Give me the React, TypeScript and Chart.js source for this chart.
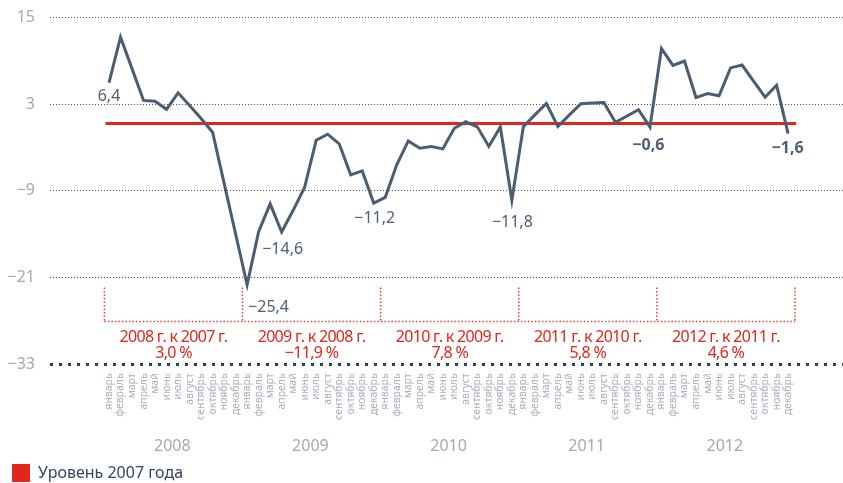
import React, { useEffect, useRef } from 'react';
import { Chart, registerables } from 'chart.js';

Chart.register(...registerables);

// ---- data ----
const monthLabels = ['январь', 'февраль', 'март', 'апрель', 'май', 'июнь', 'июль', 'август', 'сентябрь', 'октябрь', 'ноябрь', 'декабрь'];
const years = ['2008', '2009', '2010', '2011', '2012'];
const values2008 = [5.95, 12.25, 7.9, 3.5, 3.4, 2.27, 4.55, 2.8, 1.0, -0.9, -7.93, -14.97];
const values2009 = [-22.0, -14.66, -10.8, -14.7, -11.7, -8.5, -2.0, -1.17, -2.5, -6.8, -6.25, -10.7];
const values2010 = [-9.9, -5.4, -2.1, -3.1, -2.87, -3.2, -0.35, 0.55, -0.15, -2.86, -0.17, -10.3];
const values2011 = [-0.12, 1.5, 3.08, -0.1, 1.5, 3.05, 3.15, 3.2, 0.46, 1.35, 2.23, -0.2];
const values2012 = [10.67, 8.35, 8.95, 3.9, 4.45, 4.15, 8.0, 8.4, 6.17, 3.95, 5.6, -1.1];
const level2007 = 0.3;
const levelLabel = 'Уровень 2007 года';
const yTicks = [-33, -21, -9, 3, 15];
const comparisonTitles = ['2008 г. к 2007 г.', '2009 г. к 2008 г.', '2010 г. к 2009 г.', '2011 г. к 2010 г.', '2012 г. к 2011 г.'];
const comparisonValues = ['3,0 %', '−11,9 %', '7,8 %', '5,8 %', '4,6 %'];
const calloutIndex = [0, 12, 15, 23, 35, 47, 59];
const calloutText = ['6,4', '−25,4', '−14,6', '−11,2', '−11,8', '−0,6', '−1,6'];

const allValues = [...values2008, ...values2009, ...values2010, ...values2011, ...values2012];

// ---- style ----
const FONT = '"Noto Sans", "Open Sans", sans-serif';
const RED = '#e3261b';
const SLATE = '#4a5d72';
const GRAY = '#a1a9b6';

// placement of callouts relative to their point (style, not data)
const calloutPlacement: Record<number, { dx: number; dy: number; align: CanvasTextAlign; bold: boolean }> = {
  0: { dx: 0, dy: 13.5, align: 'center', bold: false },
  12: { dx: 1, dy: 23, align: 'left', bold: false },
  15: { dx: 1, dy: 17, align: 'center', bold: false },
  23: { dx: 1, dy: 15, align: 'center', bold: false },
  35: { dx: 0.5, dy: 22, align: 'center', bold: false },
  47: { dx: -1.7, dy: 18.4, align: 'center', bold: true },
  59: { dx: -0.5, dy: 15, align: 'center', bold: true },
};

const annotationPlugin = {
  id: 'annotations',
  afterDatasetsDraw(chart: any) {
    const { ctx, scales } = chart;
    const x = scales.x;
    const y = scales.y;
    ctx.save();

    // year brackets
    const base = y.getPixelForValue(-21);
    const top = base + 10;
    const bottom = base + 44;
    const bounds: number[] = [];
    for (let k = 0; k <= years.length; k++) bounds.push(x.getPixelForValue(12 * k - 0.4));
    ctx.strokeStyle = '#e8412f';
    ctx.lineWidth = 1.5;
    ctx.setLineDash([1.5, 2]);
    bounds.forEach((px) => {
      ctx.beginPath();
      ctx.moveTo(px, top);
      ctx.lineTo(px, bottom);
      ctx.stroke();
    });
    ctx.beginPath();
    ctx.moveTo(bounds[0], bottom);
    ctx.lineTo(bounds[bounds.length - 1], bottom);
    ctx.stroke();
    ctx.setLineDash([]);

    ctx.fillStyle = RED;
    ctx.font = `16px ${FONT}`;
    ctx.textAlign = 'center';
    ctx.textBaseline = 'alphabetic';
    try { (ctx as any).letterSpacing = '-0.7px'; } catch (e) { /* ignore */ }
    for (let k = 0; k < years.length; k++) {
      const cx = (bounds[k] + bounds[k + 1]) / 2;
      ctx.fillText(comparisonTitles[k], cx, bottom + 20);
      ctx.fillText(comparisonValues[k], cx, bottom + 36.6);
    }
    try { (ctx as any).letterSpacing = '0px'; } catch (e) { /* ignore */ }

    // callouts
    const meta = chart.getDatasetMeta(0);
    ctx.fillStyle = '#4d5f73';
    ctx.textBaseline = 'middle';
    calloutIndex.forEach((idx, i) => {
      const pt = meta.data[idx];
      const pl = calloutPlacement[idx];
      ctx.font = `${pl.bold ? 'bold ' : ''}16px ${FONT}`;
      ctx.textAlign = pl.align;
      ctx.fillText(calloutText[i], pt.x + pl.dx, pt.y + pl.dy);
    });
    ctx.restore();
  },
};

const X_MIN = -5.126;
const X_MAX = 63.77;

export default function App() {
  const ref = useRef<HTMLCanvasElement | null>(null);

  useEffect(() => {
    if (!ref.current) return;
    Chart.defaults.font.family = FONT;
    const chart = new Chart(ref.current, {
      type: 'line',
      data: {
        datasets: [
          {
            label: 'series',
            data: allValues.map((v, i) => ({ x: i, y: v })),
            borderColor: SLATE,
            borderWidth: 3,
            pointRadius: 0,
            tension: 0,
            fill: false,
            order: 1,
          },
          {
            label: levelLabel,
            data: [{ x: -0.3, y: level2007 }, { x: 59.7, y: level2007 }],
            borderColor: RED,
            backgroundColor: RED,
            borderWidth: 3,
            pointRadius: 0,
            fill: false,
            order: 2,
          },
        ],
      },
      options: {
        animation: false,
        responsive: true,
        maintainAspectRatio: false,
        events: [],
        layout: { padding: { top: 17.3, left: 0, right: 0, bottom: 0 } },
        scales: {
          x: {
            type: 'linear',
            min: X_MIN,
            max: X_MAX,
            weight: 0,
            grid: { display: false, drawTicks: false },
            border: { display: false },
            afterBuildTicks: (s: any) => {
              s.ticks = allValues.map((_, i) => ({ value: i }));
            },
            afterFit: (s: any) => { s.height = 60; },
            ticks: {
              autoSkip: false,
              minRotation: 90,
              maxRotation: 90,
              padding: 9,
              color: '#a9b0bc',
              font: { size: 10.5, family: FONT },
              callback: (_v: any, i: number) => monthLabels[i % 12],
            },
          },
          x2: {
            type: 'linear',
            position: 'bottom',
            min: X_MIN,
            max: X_MAX,
            weight: 1,
            grid: { display: false, drawTicks: false },
            border: { display: false },
            afterBuildTicks: (s: any) => {
              s.ticks = years.map((_, k) => ({ value: 12 * k + 5.5 }));
            },
            afterFit: (s: any) => { s.height = 27.7; },
            ticks: {
              autoSkip: false,
              maxRotation: 0,
              minRotation: 0,
              padding: 13,
              color: GRAY,
              font: { size: 16, family: FONT },
              callback: (_v: any, i: number) => years[i],
            },
          },
          y: {
            type: 'linear',
            min: -33,
            max: 15,
            afterBuildTicks: (s: any) => {
              s.ticks = yTicks.map((v) => ({ value: v }));
            },
            afterFit: (s: any) => {
              s.width = 50;
              s.paddingTop = 0;
              s.paddingBottom = 0;
            },
            grid: {
              drawTicks: false,
              color: (c: any) => (c.tick && c.tick.value === -33 ? '#2e3f52' : '#3f5368'),
              lineWidth: (c: any) => (c.tick && c.tick.value === -33 ? 3 : 1),
            },
            border: {
              display: false,
              dash: (c: any) => (c.tick && c.tick.value === -33 ? [3, 6] : [1, 2]),
            },
            ticks: {
              padding: 15,
              color: GRAY,
              font: { size: 16, family: FONT },
              callback: (v: any) => (v < 0 ? '−' + Math.abs(v) : String(v)),
            },
          },
        },
        plugins: {
          tooltip: { enabled: false },
          legend: {
            display: true,
            position: 'bottom',
            align: 'start',
            labels: {
              boxWidth: 18,
              boxHeight: 18,
              padding: 12,
              color: '#33475b',
              font: { size: 16, family: FONT },
              generateLabels: (ch: any) =>
                (Chart.defaults.plugins.legend.labels as any)
                  .generateLabels(ch)
                  .filter((l: any) => l.datasetIndex === 1)
                  .map((l: any) => ({ ...l, lineWidth: 0, fillStyle: RED, strokeStyle: RED })),
            },
          },
        },
      },
      plugins: [annotationPlugin],
    } as any);
    return () => chart.destroy();
  }, []);

  return (
    <div style={{ position: 'fixed', left: 0, top: 0, width: 843, height: 492 }}>
      <canvas ref={ref} />
    </div>
  );
}
